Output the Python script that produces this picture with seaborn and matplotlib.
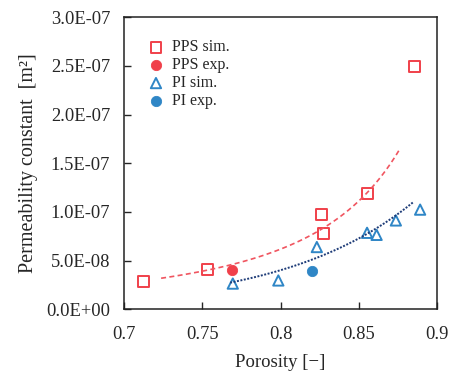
import numpy as np
import pandas as pd
import seaborn as sns
import matplotlib.pyplot as plt
from matplotlib.ticker import FuncFormatter, MultipleLocator

# data
pps_sim_x = [0.7123, 0.7533, 0.8262, 0.8273, 0.8558, 0.8858]
pps_sim_y = [2.9e-8, 4.1e-8, 9.72e-8, 7.83e-8, 1.187e-7, 2.49e-7]
pps_exp_x = [0.769]
pps_exp_y = [4.03e-8]
pi_sim_x = [0.7695, 0.7986, 0.8232, 0.8553, 0.8614, 0.8737, 0.8892]
pi_sim_y = [2.65e-8, 2.97e-8, 6.4e-8, 7.86e-8, 7.65e-8, 9.13e-8, 1.024e-7]
pi_exp_x = [0.820]
pi_exp_y = [3.93e-8]

# trend lines
# PPS: k = a / (1 - eps)^n ; PI: k = a * exp(b * eps)
pps_trend_a, pps_trend_n = 2.32e-9, 2.04
pps_trend_range = (0.7237, 0.8757)
pi_trend_a, pi_trend_b = 3.05e-12, 11.86
pi_trend_range = (0.7678, 0.8852)

sns.set_theme(style="ticks")
plt.rcParams['font.family'] = ['Liberation Serif', 'DejaVu Serif']
plt.rcParams['xtick.direction'] = 'in'
plt.rcParams['ytick.direction'] = 'in'

fig = plt.figure(figsize=(4.51, 3.71), dpi=100)
ax = fig.add_axes([0.275, 0.166, 0.694, 0.788])

red = '#f0404a'
blue = '#2f86c6'

xs = np.linspace(*pps_trend_range, 100)
sns.lineplot(x=xs, y=pps_trend_a / (1 - xs) ** pps_trend_n, ax=ax, color='#f05560',
             linestyle=(0, (3, 2)), linewidth=1.2)
xs = np.linspace(*pi_trend_range, 100)
sns.lineplot(x=xs, y=pi_trend_a * np.exp(pi_trend_b * xs), ax=ax, color='#1e3c78',
             linestyle=(0, (1, 0.8)), linewidth=1.4)

sns.scatterplot(x=pps_sim_x, y=pps_sim_y, ax=ax, marker='s', s=62,
                facecolor='none', edgecolor=red, linewidth=1.4, label='PPS sim.')
sns.scatterplot(x=pps_exp_x, y=pps_exp_y, ax=ax, marker='o', s=55,
                color=red, edgecolor=red, label='PPS exp.')
sns.scatterplot(x=pi_sim_x, y=pi_sim_y, ax=ax, marker='^', s=55,
                facecolor='none', edgecolor=blue, linewidth=1.4, label='PI sim.')
sns.scatterplot(x=pi_exp_x, y=pi_exp_y, ax=ax, marker='o', s=55,
                color=blue, edgecolor=blue, label='PI exp.')

ax.set_xlim(0.7, 0.9)
ax.set_ylim(0, 3e-7)
ax.xaxis.set_major_locator(MultipleLocator(0.05))
ax.yaxis.set_major_locator(MultipleLocator(5e-8))
ax.xaxis.set_major_formatter(FuncFormatter(lambda v, p: '{:g}'.format(round(v, 2))))
ax.yaxis.set_major_formatter(FuncFormatter(lambda v, p: '{:.1E}'.format(v)))
ax.tick_params(labelsize=13.3, length=5, width=1, pad=10)
ax.tick_params(axis='x', pad=12)
for sp in ax.spines.values():
    sp.set_linewidth(1.1)
    sp.set_color('#222222')

ax.set_xlabel('Porosity [\u2212]', fontsize=13.5, labelpad=8)
ax.set_ylabel('Permeability constant  [m\u00b2]', fontsize=14.5, labelpad=6)

ax.legend(loc='upper left', frameon=False, fontsize=11.5, handletextpad=0.4,
          labelspacing=0.12, borderaxespad=1.0, handlelength=1.2)

fig.savefig('out.png', dpi=100)
